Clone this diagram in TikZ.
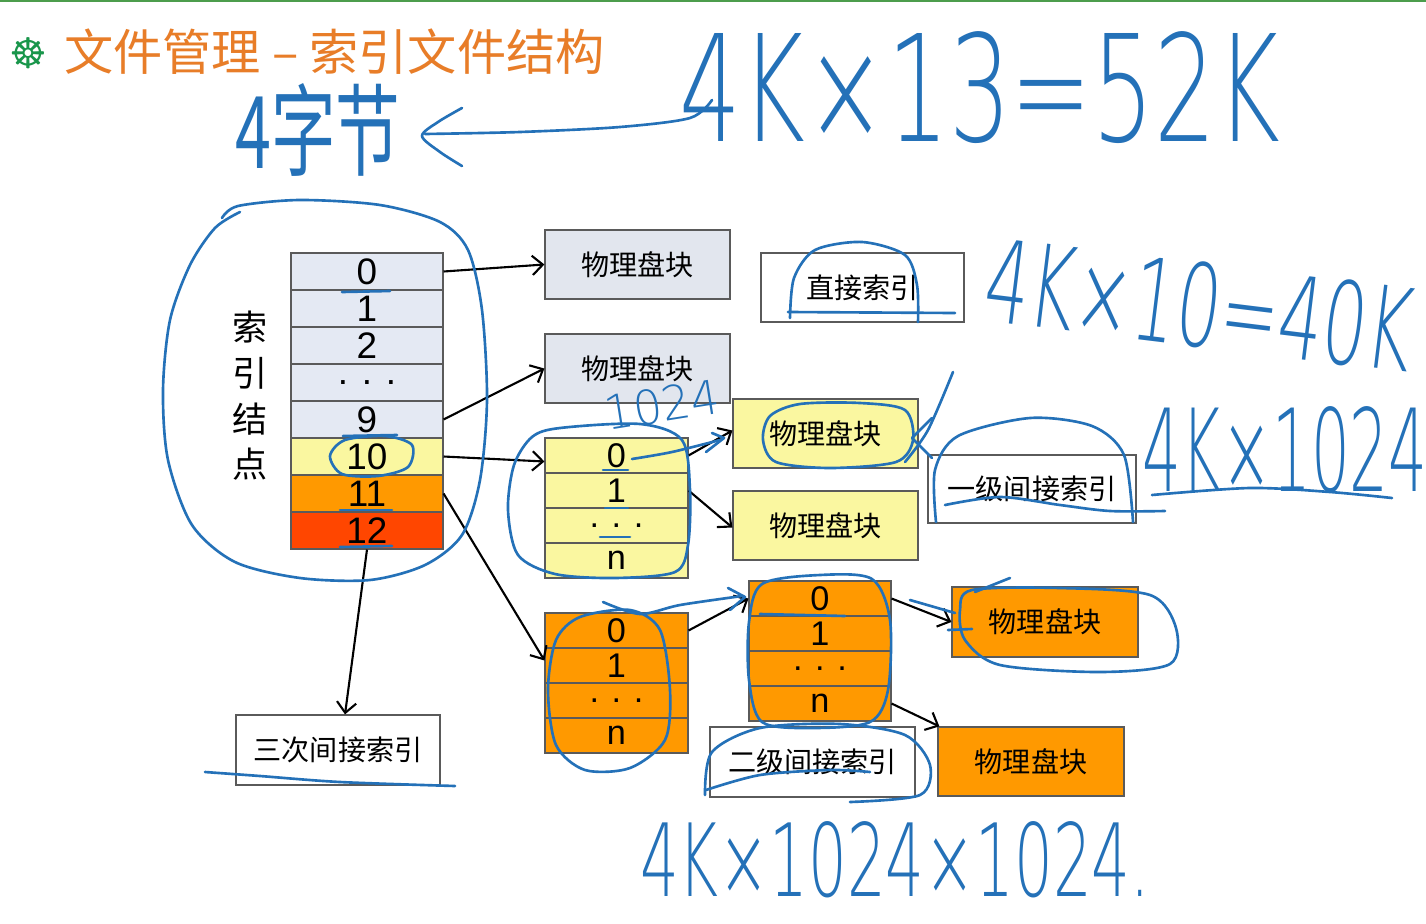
\documentclass[tikz,border=0pt]{standalone}
\usepackage{fontspec}
\usetikzlibrary{arrows.meta,calc}
\setmainfont{Liberation Sans}
\newfontfamily\cjk{Noto Sans CJK SC}
\newfontfamily\hand{DejaVu Sans ExtraLight}
\newfontfamily\symb{DejaVu Sans}
\definecolor{rowgrey}{RGB}{228,233,243}
\definecolor{boxgrey}{RGB}{226,230,238}
\definecolor{yel}{RGB}{250,247,160}
\definecolor{org}{RGB}{255,153,0}
\definecolor{redo}{RGB}{255,70,0}
\definecolor{edge}{RGB}{90,90,90}
\definecolor{titleorg}{RGB}{232,125,40}
\definecolor{bulletgreen}{RGB}{25,150,75}
\definecolor{hblue}{RGB}{36,113,184}
\begin{document}
\begin{tikzpicture}[x=0.02cm,y=-0.02cm,
  cell/.style={draw=edge, line width=0.6pt, minimum width=152*0.02cm, minimum height=37*0.02cm, inner sep=0pt, font=\fontsize{21}{21}\selectfont},
  bcell/.style={draw=edge, line width=0.6pt, minimum width=143*0.02cm, minimum height=35*0.02cm, inner sep=0pt, font=\fontsize{19.5}{19.5}\selectfont},
  blk/.style={draw=edge, line width=0.7pt, minimum width=185*0.02cm, minimum height=69*0.02cm, inner sep=0pt, font=\cjk\fontsize{16}{16}\selectfont},
  lbl/.style={draw=edge, line width=0.7pt, fill=white, minimum width=205*0.02cm, minimum height=69*0.02cm, inner sep=0pt, font=\cjk\fontsize{16}{16}\selectfont},
  arr/.style={line width=1.2pt, -{Straight Barb[length=6pt,width=11pt,line width=1.2pt]}},
  hw/.style={draw=hblue, line width=1.5pt, line cap=round, line join=round},
  hwt/.style={text=hblue, inner sep=0pt}
]
\useasboundingbox (0,0) rectangle (1426,923);
\fill[white] (0,0) rectangle (1426,923);
\draw[line width=1.5pt, green!45!black!70] (0,1) -- (1426,1);

% title
\node[text=bulletgreen, font=\symb\fontsize{24}{24}\selectfont] (bullet) at (28,53) {☸};
\node[anchor=west, text=titleorg, inner sep=0pt, font=\cjk\fontsize{28}{28}\selectfont] (title) at (64,52) {文件管理 – 索引文件结构};

% index node table
\node[cell, fill=rowgrey] (r0) at (367,271.5) {0};
\node[cell, fill=rowgrey] (r1) at (367,308.5) {1};
\node[cell, fill=rowgrey] (r2) at (367,345.5) {2};
\node[cell, fill=rowgrey] (rd) at (367,382.5) {. . .};
\node[cell, fill=rowgrey] (r9) at (367,419.5) {9};
\node[cell, fill=yel] (r10) at (367,456.5) {10};
\node[cell, fill=org] (r11) at (367,493.5) {11};
\node[cell, fill=redo] (r12) at (367,530.5) {12};
\node[align=center, inner sep=0pt, font=\cjk\fontsize{20}{26}\selectfont] (inode) at (250,396) {索\\引\\结\\点};

% first level blocks
\node[blk, fill=boxgrey] (p1) at (637.5,264.5) {物理盘块};
\node[blk, fill=boxgrey] (p2) at (637.5,368.5) {物理盘块};
\node[lbl, minimum width=203*0.02cm] (direct) at (862.5,287.5) {直接索引};

% yellow index block
\node[bcell, fill=yel] (y0) at (616.5,455.5) {0};
\node[bcell, fill=yel] (y1) at (616.5,490.5) {1};
\node[bcell, fill=yel] (yd) at (616.5,525.5) {. . .};
\node[bcell, fill=yel] (yn) at (616.5,560.5) {n};
\node[blk, fill=yel] (py1) at (825.5,433.5) {物理盘块};
\node[blk, fill=yel] (py2) at (825.5,525.5) {物理盘块};
\node[lbl, minimum width=208*0.02cm, minimum height=68*0.02cm] (first) at (1032,489) {一级间接索引};

% orange index block 1
\node[bcell, fill=org] (a0) at (616.5,630.5) {0};
\node[bcell, fill=org] (a1) at (616.5,665.5) {1};
\node[bcell, fill=org] (ad) at (616.5,700.5) {. . .};
\node[bcell, fill=org] (an) at (616.5,735.5) {n};
% orange index block 2
\node[bcell, fill=org, minimum width=142*0.02cm] (b0) at (820,598.5) {0};
\node[bcell, fill=org, minimum width=142*0.02cm] (b1) at (820,633.5) {1};
\node[bcell, fill=org, minimum width=142*0.02cm] (bd) at (820,668.5) {. . .};
\node[bcell, fill=org, minimum width=142*0.02cm] (bn) at (820,703.5) {n};
\node[blk, fill=org, minimum width=186*0.02cm, minimum height=70*0.02cm] (po1) at (1045,622) {物理盘块};
\node[blk, fill=org, minimum width=186*0.02cm] (po2) at (1031,761.5) {物理盘块};
\node[lbl, minimum height=70*0.02cm] (second) at (812.5,762) {二级间接索引};
\node[lbl, minimum width=204*0.02cm, minimum height=70*0.02cm] (third) at (338,750) {三次间接索引};

% connectors
\draw[arr] (r0.east) -- (p1.west);
\draw[arr] (r9.east) -- (p2.west);
\draw[arr] (r10.east) -- ($(y0.west)+(0,6)$);
\draw[arr] (r11.east) -- ($(a1.west)+(0,-5)$);
\draw[arr] (r12.south) -- ($(third.north)+(7,0)$);
\draw[arr] (y0.east) -- ($(py1.west)+(0,-3)$);
\draw[arr] (y1.east) -- ($(py2.west)+(0,2)$);
\draw[arr] (a0.east) -- (b0.west);
\draw[arr] (b0.east) -- (po1.west);
\draw[arr] (bn.east) -- ($(po2.north west)+(2,0)$);

% handwritten annotations
\node[hwt] (hw52) at (980,88) {\resizebox{12cm}{2.2cm}{\hand 4K×13=52K}};
\node[hwt] (hwbyte) at (318,130) {\resizebox{3.3cm}{1.7cm}{\cjk 4字节}};
\node[hwt, rotate=-7] (hw40) at (1200,305) {\resizebox{8.6cm}{1.7cm}{\hand 4K×10=40K}};
\node[hwt, rotate=9] (hw1024) at (662,405) {\resizebox{2.3cm}{0.7cm}{\hand 1024}};
\node[hwt] (hw4m) at (1285,450) {\resizebox{5.7cm}{1.7cm}{\hand 4K×1024}};
\node[hwt] (hw4g) at (895,860) {\resizebox{10.2cm}{1.5cm}{\hand 4K×1024×1024.}};

% arrow from 4K to 4 bytes
\draw[hw] plot[smooth] coordinates {(712,100) (690,118) (620,127) (520,132) (425,134)};
\draw[hw] plot[smooth] coordinates {(462,108) (438,122) (422,136) (440,152) (462,166)};

% loops and underlines
\draw[hw] plot[smooth] coordinates {(222,218) (238,206) (300,200) (380,205) (440,222) (468,250) (482,310) (487,400) (480,480) (462,535) (425,565) (370,580) (300,578) (235,562) (192,525) (168,460) (163,390) (170,320) (190,265) (215,228) (240,212)};
\draw[hw] plot[smooth cycle] coordinates {(330,456) (345,440) (385,436) (412,445) (408,467) (378,476) (342,474)};
\draw[hw] (342,292) -- (390,291);
\draw[hw] (343,436) -- (397,435);
\draw[hw] (340,510) -- (392,510);
\draw[hw] (340,547) -- (392,546);
\draw[hw] plot[smooth cycle] coordinates {(560,428) (640,424) (682,440) (690,490) (688,545) (675,572) (615,578) (555,574) (518,555) (508,510) (514,465) (532,437)};
\draw[hw] plot[smooth] coordinates {(632,459) (672,452) (720,440)};
\draw[hw] (712,433) -- (724,438) -- (706,452);
\draw[hw] (603,470) -- (628,470);
\draw[hw] (605,508) -- (628,508);
\draw[hw] (600,537) -- (630,537);

\draw[hw] plot[smooth] coordinates {(790,318) (794,278) (815,250) (862,242) (905,255) (917,285) (918,322)};
\draw[hw] (788,312) -- (955,313);

\draw[hw] plot[smooth cycle] coordinates {(770,416) (800,404) (860,403) (905,410) (913,440) (896,462) (830,468) (776,462) (763,440)};
\draw[hw] plot[smooth] coordinates {(905,462) (928,430) (953,372)};
\draw[hw] (932,418) -- (912,438) -- (932,458);

\draw[hw] plot[smooth] coordinates {(936,522) (935,470) (958,436) (1030,418) (1092,426) (1124,455) (1133,522)};
\draw[hw] plot[smooth] coordinates {(945,505) (1000,497) (1060,505) (1110,511) (1165,511)};
\draw[hw] plot[smooth] coordinates {(1152,495) (1250,488) (1330,492) (1392,498)};

\draw[hw] plot[smooth cycle] coordinates {(580,617) (630,610) (660,630) (670,690) (665,740) (630,768) (585,770) (556,745) (548,690) (556,640)};
\draw[hw] plot[smooth] coordinates {(603,602) (640,614) (680,605) (742,596)};
\draw[hw] (728,588) -- (745,597) -- (730,610);

\draw[hw] plot[smooth cycle] coordinates {(762,584) (820,575) (872,579) (890,620) (888,690) (870,722) (812,728) (762,722) (749,680) (749,622)};
\draw[hw] (760,614) -- (845,616);

\draw[hw] plot[smooth cycle] coordinates {(972,590) (1060,588) (1150,595) (1176,628) (1170,664) (1100,672) (1000,665) (965,640) (960,610)};
\draw[hw] (910,600) -- (955,613);
\draw[hw] (948,630) -- (972,629);
\draw[hw] (975,592) -- (1010,578);

\draw[hw] plot[smooth] coordinates {(705,795) (712,752) (760,728) (840,724) (905,735) (930,765) (920,795) (850,802)};
\draw[hw] plot[smooth] coordinates {(706,790) (760,775) (830,770) (870,772)};

\draw[hw] plot[smooth] coordinates {(205,772) (260,776) (340,782) (455,786)};
\end{tikzpicture}
\end{document}
